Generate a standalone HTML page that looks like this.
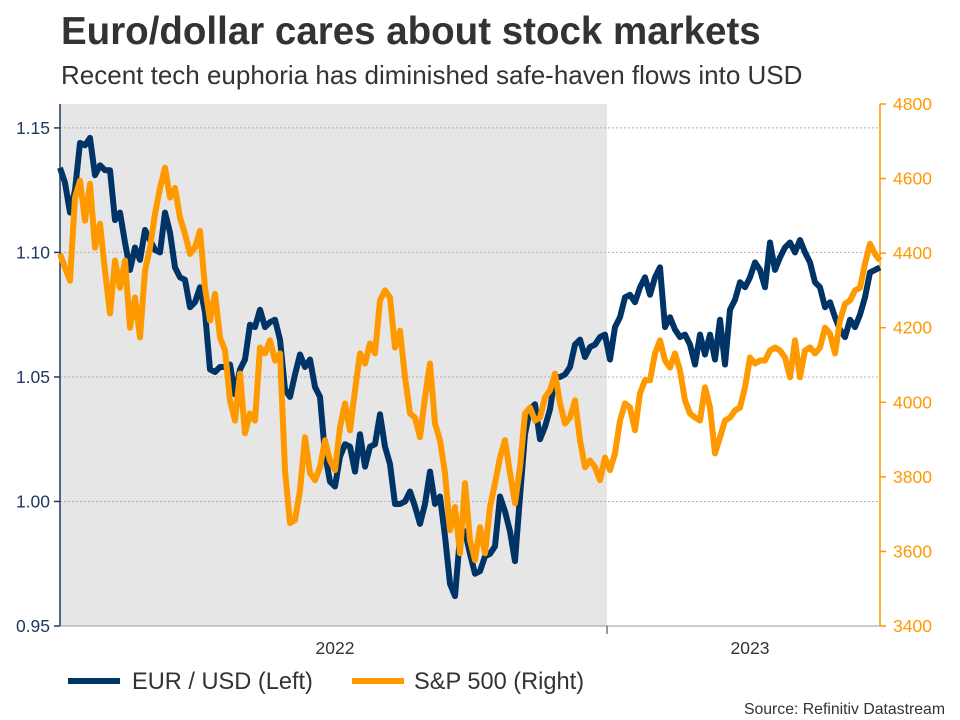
<!DOCTYPE html>
<html><head><meta charset="utf-8"><style>
body{margin:0;background:#fff;font-family:"Liberation Sans",sans-serif;}
svg{display:block}
</style></head><body>
<svg id="chart" width="960" height="720">
<text x="61" y="44" font-size="38.5" font-weight="bold" fill="#333">Euro/dollar cares about stock markets</text>
<text x="61" y="84" font-size="26" fill="#333">Recent tech euphoria has diminished safe-haven flows into USD</text>
<rect x="60" y="104" width="547" height="522" fill="#e6e6e6"/>
<g id="grid"></g><g id="axes"></g><g id="series"></g>
<g>
<line x1="68" y1="681" x2="120" y2="681" stroke="#003366" stroke-width="6"/>
<text x="132" y="689" font-size="23.6" fill="#333">EUR / USD (Left)</text>
<line x1="352" y1="681" x2="404" y2="681" stroke="#ff9900" stroke-width="6"/>
<text x="414" y="689" font-size="23.6" fill="#333">S&amp;P 500 (Right)</text>
</g>
<text x="945" y="714" font-size="15.8" fill="#333" text-anchor="end">Source: Refinitiv Datastream</text>
</svg>
<script>
const eurusd=[1.134,1.128,1.116,1.125,1.144,1.143,1.146,1.131,1.135,1.133,1.133,1.113,1.116,1.104,1.093,1.102,1.097,1.109,1.105,1.101,1.100,1.116,1.108,1.094,1.090,1.089,1.078,1.080,1.086,1.076,1.053,1.052,1.054,1.054,1.055,1.043,1.053,1.057,1.071,1.070,1.077,1.070,1.072,1.073,1.065,1.045,1.042,1.051,1.059,1.054,1.057,1.046,1.042,1.019,1.008,1.006,1.018,1.023,1.022,1.012,1.027,1.014,1.022,1.023,1.035,1.022,1.015,0.999,0.999,1.000,1.004,0.998,0.991,0.999,1.012,0.999,1.002,0.986,0.967,0.962,0.986,0.988,0.979,0.971,0.972,0.978,0.979,0.982,1.002,0.996,0.988,0.976,1.002,1.027,1.037,1.039,1.025,1.030,1.037,1.050,1.050,1.051,1.054,1.063,1.065,1.058,1.062,1.063,1.066,1.067,1.057,1.070,1.074,1.082,1.083,1.080,1.086,1.090,1.083,1.090,1.094,1.070,1.074,1.069,1.066,1.067,1.063,1.055,1.067,1.059,1.067,1.057,1.073,1.055,1.077,1.081,1.088,1.086,1.090,1.096,1.093,1.086,1.104,1.093,1.098,1.102,1.104,1.100,1.105,1.100,1.096,1.088,1.086,1.078,1.080,1.074,1.069,1.066,1.073,1.070,1.075,1.082,1.092,1.093,1.094];
const spx=[4398,4361,4326,4549,4594,4487,4586,4415,4479,4353,4238,4380,4307,4380,4200,4281,4174,4353,4415,4505,4575,4629,4549,4575,4495,4452,4398,4415,4460,4307,4219,4291,4174,4139,4005,3951,4077,3917,3970,3951,4147,4131,4166,4112,4131,3818,3676,3684,3764,3906,3810,3791,3826,3898,3844,3818,3933,3997,3925,4032,4131,4104,4158,4131,4273,4300,4281,4147,4192,4067,3970,3959,3906,4013,4104,3943,3898,3810,3657,3719,3595,3783,3630,3577,3665,3595,3719,3783,3852,3898,3810,3729,3826,3970,3986,3951,3959,4013,4032,4077,3997,3943,3959,4005,3898,3826,3844,3826,3791,3852,3818,3863,3951,3997,3986,3925,4024,4059,4059,4131,4166,4112,4093,4131,4085,4005,3970,3959,3951,4040,3986,3863,3906,3951,3959,3978,3986,4040,4120,4104,4112,4112,4139,4147,4139,4120,4067,4166,4067,4139,4147,4131,4147,4200,4184,4131,4219,4264,4273,4300,4307,4372,4425,4398,4380];
const leftTicks=[0.95,1.00,1.05,1.10,1.15];
const rightTicks=[3400,3600,3800,4000,4200,4400,4600,4800];
const yearLabels=["2022","2023"];
const yearLabelIdx=[55,138];
const yearBoundaryIdx=[109.4];

const X0=60,X1=880,T=104,B=626;
const n=eurusd.length;
const xS=i=>X0+i*(X1-X0)/(n-1);
const yL=v=>B-(v-0.95)/(1.1596-0.95)*(B-T);
const yR=v=>B-(v-3400)/(4800-3400)*(B-T);
const NS="http://www.w3.org/2000/svg";
function mk(tag,attrs,parent,txt){const e=document.createElementNS(NS,tag);for(const k in attrs)e.setAttribute(k,attrs[k]);if(txt!==undefined)e.textContent=txt;parent.appendChild(e);return e;}
const grid=document.getElementById('grid'),axes=document.getElementById('axes'),series=document.getElementById('series');
leftTicks.forEach(v=>{const y=yL(v);
 const g=mk('line',{x1:X0,x2:X1,y1:y,y2:y,stroke:'#b0b0b0','stroke-dasharray':'2,2','stroke-width':1},grid);
 
 
 const t=mk('line',{x1:X0-6,x2:X0,y1:y,y2:y,stroke:'#1f3864','stroke-width':1.5},axes);
 
 
 const l=mk('text',{x:50,y:y+6,'font-size':17.5,fill:'#1f3864','text-anchor':'end'},axes,v.toFixed(2));
 
 
});
rightTicks.forEach(v=>{const y=yR(v);
 const t=mk('line',{x1:X1,x2:X1+6,y1:y,y2:y,stroke:'#ff9900','stroke-width':1.5},axes);
 
 
 const l=mk('text',{x:893,y:y+6,'font-size':17.5,fill:'#ff9900'},axes,String(v));
 
 
});
const la=mk('line',{x1:X0,x2:X0,y1:T,y2:B,stroke:'#1f3864','stroke-width':1.5},axes);


const ra=mk('line',{x1:X1,x2:X1,y1:T,y2:B,stroke:'#ff9900','stroke-width':1.5},axes);


const xa=mk('line',{x1:X0,x2:X1,y1:B,y2:B,stroke:'#999','stroke-width':1},axes);


yearBoundaryIdx.forEach(i=>{const x=xS(i);
 const t=mk('line',{x1:x,x2:x,y1:B,y2:B+8,stroke:'#333','stroke-width':1},axes);
 
 });
yearLabels.forEach((s,k)=>{
 const l=mk('text',{x:xS(yearLabelIdx[k]),y:654,'font-size':17.5,fill:'#333','text-anchor':'middle'},axes,s);
 
 });
function path(arr,ys){return arr.map((v,i)=>(i?'L':'M')+xS(i).toFixed(1)+','+ys(v).toFixed(1)).join('');}
const p1=mk('path',{d:path(eurusd,yL),fill:'none',stroke:'#003366','stroke-width':6,'stroke-linejoin':'round'},series);


const p2=mk('path',{d:path(spx,yR),fill:'none',stroke:'#ff9900','stroke-width':6,'stroke-linejoin':'round'},series);


</script>
</body></html>
